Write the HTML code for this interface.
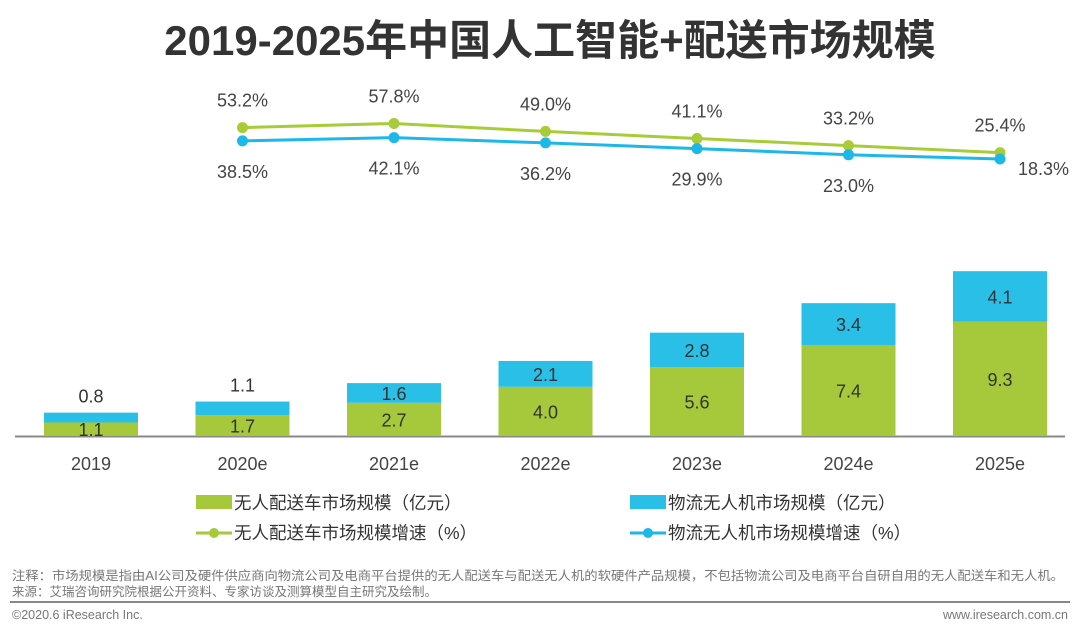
<!DOCTYPE html>
<html><head><meta charset="utf-8"><style>
html,body{margin:0;padding:0;background:#fff;width:1080px;height:632px;overflow:hidden;font-family:"Liberation Sans","Noto Sans CJK SC",sans-serif}
</style></head><body>
<svg id="chart" width="1080" height="632" viewBox="0 0 1080 632" xmlns="http://www.w3.org/2000/svg">
<text x="550" y="55" text-anchor="middle" font-size="42" font-weight="bold" fill="#333" font-family="Liberation Sans,Noto Sans CJK SC,sans-serif">2019-2025年中国人工智能+配送市场规模</text>
<line x1="15" y1="436.5" x2="1065" y2="436.5" stroke="#888" stroke-width="2"/>
<g id="bars"></g><g id="lines"></g>
<g font-size="17.5" fill="#333">
<rect x="196" y="495" width="36" height="14" fill="#a5c93a"/>
<text x="234" y="509">无人配送车市场规模（亿元）</text>
<rect x="630" y="495" width="36" height="14" fill="#29bfe6"/>
<text x="668" y="509">物流无人机市场规模（亿元）</text>
<line x1="196" y1="533" x2="232" y2="533" stroke="#a5c93a" stroke-width="3"/>
<circle cx="214" cy="533" r="5" fill="#a5c93a"/>
<text x="234" y="539">无人配送车市场规模增速（%）</text>
<line x1="630" y1="533" x2="666" y2="533" stroke="#1cb8e8" stroke-width="3"/>
<circle cx="648" cy="533" r="5" fill="#1cb8e8"/>
<text x="668" y="539">物流无人机市场规模增速（%）</text>
</g>
<text x="12" y="580" font-size="12.5" fill="#777" textLength="1052" lengthAdjust="spacingAndGlyphs">注释：市场规模是指由AI公司及硬件供应商向物流公司及电商平台提供的无人配送车与配送无人机的软硬件产品规模，不包括物流公司及电商平台自研自用的无人配送车和无人机。</text>
<text x="12" y="596" font-size="12.5" fill="#777">来源：艾瑞咨询研究院根据公开资料、专家访谈及测算模型自主研究及绘制。</text>
<line x1="10" y1="602" x2="1070" y2="602" stroke="#888" stroke-width="2"/>
<text x="12" y="619" font-size="12.5" fill="#777">©2020.6 iResearch Inc.</text>
<text x="1068" y="619" font-size="12.5" fill="#777" text-anchor="end">www.iresearch.com.cn</text>
</svg>
<script>
const categories=["2019","2020e","2021e","2022e","2023e","2024e","2025e"];
const vehicleValues=[1.1,1.7,2.7,4.0,5.6,7.4,9.3];
const droneValues=[0.8,1.1,1.6,2.1,2.8,3.4,4.1];
const vehicleGrowth=[null,53.2,57.8,49.0,41.1,33.2,25.4];
const droneGrowth=[null,38.5,42.1,36.2,29.9,23.0,18.3];
const NS="http://www.w3.org/2000/svg";
const xC=i=>91+i*151.5;
const yB=v=>436-v*12.3;
const yL=v=>175.5-v*0.9;
const bars=document.getElementById('bars'),lines=document.getElementById('lines');
function mk(tag,attrs,parent,txt){const e=document.createElementNS(NS,tag);for(const k in attrs)e.setAttribute(k,attrs[k]);if(txt!=null)e.textContent=txt;parent.appendChild(e);return e;}
categories.forEach((c,i)=>{
  const x=xC(i)-47,w=94;const g=vehicleValues[i],b=droneValues[i];
  let r=mk('rect',{x:x,y:yB(g),width:w,height:yB(0)-yB(g),fill:'#a5c93a'},bars);
  
  
  r=mk('rect',{x:x,y:yB(g+b),width:w,height:yB(g)-yB(g+b),fill:'#29bfe6'},bars);
  
  
  let t=mk('text',{x:xC(i),y:(yB(g)+yB(0))/2+7,'text-anchor':'middle','font-size':18,fill:'#333'},bars,g.toFixed(1));
  
  
  const h=yB(g)-yB(g+b);
  const ty=h<16?yB(g+b)-10:(yB(g)+yB(g+b))/2+7;
  t=mk('text',{x:xC(i),y:ty,'text-anchor':'middle','font-size':18,fill:'#333'},bars,b.toFixed(1));
  
  
  t=mk('text',{x:xC(i),y:470,'text-anchor':'middle','font-size':18,fill:'#444'},bars,c);
  
  
});
function series(vals,color,name,above){
  const pts=[];vals.forEach((v,i)=>{if(v!=null)pts.push([xC(i),yL(v),v,i]);});
  const p=mk('polyline',{points:pts.map(q=>q[0]+','+q[1]).join(' '),fill:'none',stroke:color,'stroke-width':3},lines);
  
  
  pts.forEach((q,k)=>{
    const c=mk('circle',{cx:q[0],cy:q[1],r:5.5,fill:color},lines);
    
    
    const last=!above&&k===pts.length-1;
    const t=mk('text',{x:last?q[0]+18:q[0],y:last?q[1]+16:(above?q[1]-21:q[1]+37),'text-anchor':last?'start':'middle','font-size':18,fill:'#444'},lines,q[2].toFixed(1)+'%');
    
    
  });
}
series(vehicleGrowth,'#a8cc38','vehicle',true);
series(droneGrowth,'#1cb8e8','drone',false);
</script>
</body></html>
